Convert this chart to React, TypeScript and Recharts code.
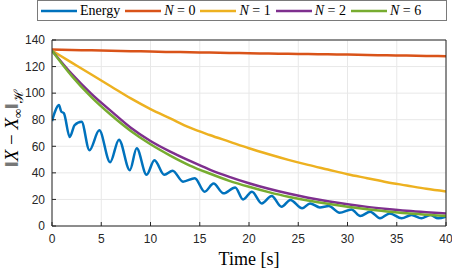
import { LineChart, Line, XAxis, YAxis, CartesianGrid, Legend, Label } from 'recharts';

const xTicks = [0, 5, 10, 15, 20, 25, 30, 35, 40];
const yTicks = [0, 20, 40, 60, 80, 100, 120, 140];

const energyTime = [
  0, 0.3, 0.7, 0.95, 1.2, 1.8, 2.3, 3.0, 3.8, 4.8, 5.9, 6.8, 7.9, 8.6, 9.6, 10.4, 11.4, 12.25, 13.3,
  14.5, 15.5, 16.4, 17.4, 18.6, 19.4, 20.3, 21.3, 22.3, 23.3, 24.2, 25.4, 26.2, 27.2, 28.1, 29.2,
  30.4, 31.3, 32.3, 33.3, 34.3, 35.5, 36.5, 37.5, 38.4, 39.2, 40,
];
const energyValue = [
  79, 86, 91, 86, 85, 67, 76, 78.5, 57, 72, 48, 65, 42, 58.5, 38.5, 49.5, 38.5, 41.6, 33.4,
  36, 25.8, 32, 24.6, 29, 20, 25.8, 17, 22.6, 14.5, 19.6, 13.3, 17, 14, 15, 10,
  12.5, 7.5, 10.8, 5.8, 9.5, 5.8, 8.3, 5.8, 8.3, 5.8, 7,
];

const modelTime = [0, 2, 4, 6, 8, 10, 12, 14, 16, 18, 20, 22, 24, 26, 28, 30, 32, 34, 36, 38, 40];
const n0Value = [132.8, 132.5, 132.2, 131.9, 131.6, 131.3, 131.0, 130.8, 130.5, 130.3, 130.0, 129.8, 129.6, 129.4, 129.2, 129.0, 128.7, 128.5, 128.3, 128.0, 127.8];
const n1Value = [132, 123, 114, 105, 96, 88, 81, 74, 68.5, 63.5, 58.5, 54, 49.8, 46, 42.5, 39, 36, 33, 30.5, 28, 26];
const n2Value = [132, 114.5, 99.5, 86.5, 74, 64, 56, 49, 42.5, 37, 32.2, 28, 24.4, 21.3, 18.6, 16.3, 14.4, 12.8, 11.4, 10.3, 9.4];
const n6Value = [132, 113, 97, 83.5, 71.5, 61.5, 53, 45.5, 39.5, 34, 29.5, 25.5, 22, 19.2, 16.7, 14.5, 12.6, 11, 9.6, 8.5, 7.5];

const toPoints = (ts: number[], vs: number[]) => ts.map((t, i) => ({ t, v: vs[i] }));

const energyData = toPoints(energyTime, energyValue);
const n0Data = toPoints(modelTime, n0Value);
const n1Data = toPoints(modelTime, n1Value);
const n2Data = toPoints(modelTime, n2Value);
const n6Data = toPoints(modelTime, n6Value);

const axisColor = '#262626';
const tickStyle = { fontFamily: "'Liberation Sans', Arial, sans-serif", fontSize: 12, fill: axisColor };
const serif = "'Liberation Serif', 'DejaVu Serif', serif";

function seriesLabel(name: string) {
  if (name.startsWith('N')) {
    return (
      <>
        <i>N</i>
        {name.slice(1)}
      </>
    );
  }
  return name;
}

function LegendBox(props: any) {
  const payload = props.payload ?? [];
  return (
    <div
      style={{
        boxSizing: 'border-box',
        height: 21,
        width: 410,
        border: '1px solid #7a7a7a',
        background: '#fff',
        display: 'flex',
        alignItems: 'center',
        paddingLeft: 3,
        gap: 5,
        fontFamily: serif,
        fontWeight: 400,
        fontSize: 14,
        color: '#000',
        whiteSpace: 'pre',
      }}
    >
      {payload.map((p: any) => (
        <div key={p.value} style={{ display: 'flex', alignItems: 'center' }}>
          <svg width={36} height={4} style={{ marginRight: 3 }}>
            <line x1={0} y1={2} x2={36} y2={2} stroke={p.color} strokeWidth={2.5} />
          </svg>
          <span style={{ fontFamily: serif, fontWeight: 400 }}>{seriesLabel(p.value)}</span>
        </div>
      ))}
    </div>
  );
}

function YTitle(props: any) {
  const vb = props.viewBox ?? { x: 0, y: 40, width: 52, height: 186 };
  const cx = 18;
  const cy = vb.y + vb.height / 2 - 5;
  return (
    <text
      x={cx}
      y={cy}
      transform={`rotate(-90 ${cx} ${cy})`}
      textAnchor="middle"
      fontFamily={serif}
      fontSize={19}
      fill="#000"
    >
      <tspan>‖</tspan>
      <tspan fontStyle="italic">X</tspan>
      <tspan> − </tspan>
      <tspan fontStyle="italic">X</tspan>
      <tspan fontSize={13} dy={4}>∞</tspan>
      <tspan dy={-4}>‖</tspan>
      <tspan fontSize={13} dy={5}>ℋ</tspan>
    </text>
  );
}

export default function App() {
  return (
    <div style={{ position: 'absolute', left: 0, top: 0 }}>
      <LineChart width={452} height={270} margin={{ top: 18, right: 5, bottom: 0, left: 0 }}>
        <CartesianGrid stroke="#e8e8e8" vertical horizontal />
        <XAxis
          type="number"
          dataKey="t"
          domain={[0, 40]}
          ticks={xTicks}
          height={44}
          tickSize={-4}
          tickMargin={12}
          tick={tickStyle}
          stroke={axisColor}
          allowDataOverflow
        >
          <Label
            value="Time [s]"
            position="insideBottom"
            offset={5}
            style={{ fontFamily: serif, fontSize: 18, fill: '#000' }}
          />
        </XAxis>
        <XAxis
          xAxisId="top"
          orientation="top"
          type="number"
          domain={[0, 40]}
          ticks={xTicks}
          height={1}
          tickSize={-4}
          tick={false}
          stroke={axisColor}
        />
        <YAxis
          type="number"
          domain={[0, 140]}
          ticks={yTicks}
          width={52}
          tickSize={-4}
          tickMargin={11}
          tick={tickStyle}
          stroke={axisColor}
          allowDataOverflow
        >
          <Label content={(p: any) => <YTitle viewBox={p.viewBox} />} />
        </YAxis>
        <YAxis
          yAxisId="right"
          orientation="right"
          type="number"
          domain={[0, 140]}
          ticks={yTicks}
          width={1}
          tickSize={-4}
          tick={false}
          stroke={axisColor}
        />
        <Legend
          verticalAlign="top"
          content={<LegendBox />}
          wrapperStyle={{ top: 0, left: 37, width: 410, height: 21 }}
        />
        <Line data={energyData} dataKey="v" name="Energy" type="monotone" stroke="#0072BD" strokeWidth={2.5} dot={false} isAnimationActive={false} />
        <Line data={n0Data} dataKey="v" name="N = 0" type="monotone" stroke="#D95319" strokeWidth={2.5} dot={false} isAnimationActive={false} />
        <Line data={n1Data} dataKey="v" name="N = 1" type="monotone" stroke="#EDB120" strokeWidth={2.5} dot={false} isAnimationActive={false} />
        <Line data={n2Data} dataKey="v" name="N = 2" type="monotone" stroke="#7E2F8E" strokeWidth={2.5} dot={false} isAnimationActive={false} />
        <Line data={n6Data} dataKey="v" name="N = 6" type="monotone" stroke="#77AC30" strokeWidth={2.5} dot={false} isAnimationActive={false} />
      </LineChart>
    </div>
  );
}
